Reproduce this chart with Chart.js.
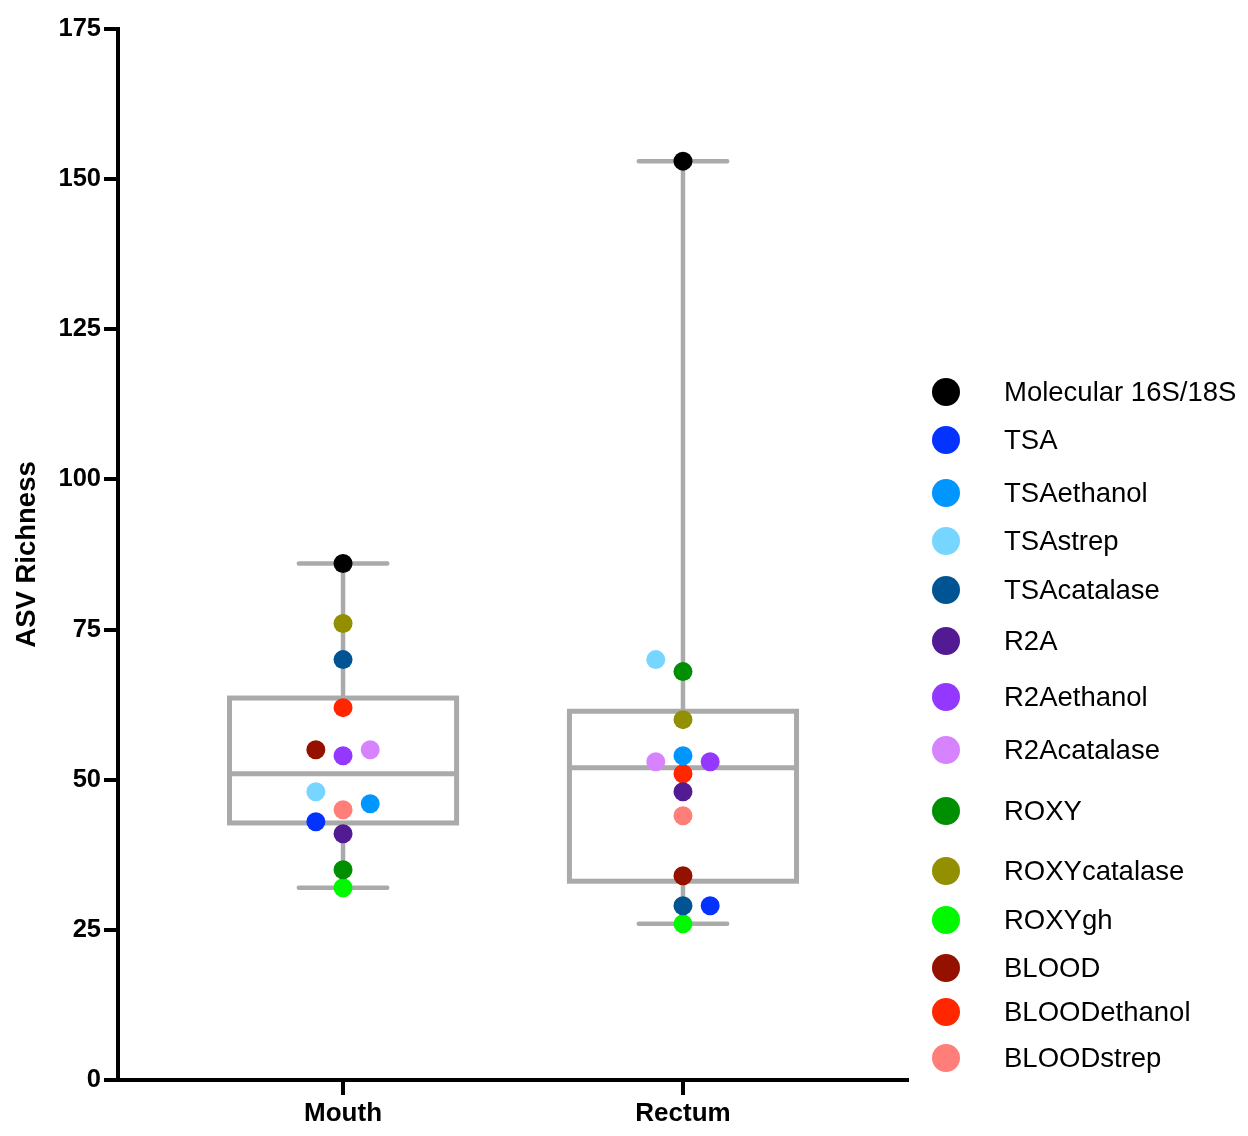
<!DOCTYPE html>
<html>
<head>
<meta charset="utf-8">
<script src="https://cdn.jsdelivr.net/npm/chart.js@4.4.1/dist/chart.umd.min.js"></script>
<style>
  html, body { margin: 0; padding: 0; background: #fff; }
  #wrap { position: relative; width: 1248px; height: 1136px; }
  #legend { position: absolute; left: 0; top: 0; width: 1248px; height: 1136px; pointer-events: none; }
  .item { position: absolute; left: 932px; height: 28px; display: flex; align-items: center;
          font-family: "Liberation Sans", Arial, sans-serif; font-size: 27.5px; color: #000; white-space: nowrap; }
  .dot { width: 28px; height: 28px; border-radius: 50%; margin-right: 44px; flex: none; }
</style>
</head>
<body>
<div id="wrap">
  <canvas id="chart"></canvas>
  <div id="legend"></div>
</div>
<script>
// ===== Data =====
const groups = ['Mouth', 'Rectum'];
const seriesNames = ['Molecular 16S/18S', 'TSA', 'TSAethanol', 'TSAstrep', 'TSAcatalase', 'R2A', 'R2Aethanol',
  'R2Acatalase', 'ROXY', 'ROXYcatalase', 'ROXYgh', 'BLOOD', 'BLOODethanol', 'BLOODstrep'];
const seriesColors = ['#000000', '#0433FF', '#0096FF', '#76D6FF', '#005493', '#531B93', '#9437FF',
  '#D783FF', '#008F00', '#929000', '#00F900', '#941100', '#FF2600', '#FF7E79'];
const mouthValues  = [86, 43, 46, 48, 70, 41, 54, 55, 35, 76, 32, 55, 62, 45];
const rectumValues = [153, 29, 54, 70, 29, 48, 53, 53, 68, 60, 26, 34, 51, 44];
// which side of the centre line a point is nudged to (-1 left, 0 centre, 1 right)
const mouthSide  = [0, -1, 1, -1, 0, 0, 0, 1, 0, 0, 0, -1, 0, 0];
const rectumSide = [0, 1, 0, -1, 0, 0, 1, -1, 0, 0, 0, 0, 0, 0];

const boxMin    = [32, 26];
const boxQ1     = [42.8, 33.1];
const boxMedian = [51, 52];
const boxQ3     = [63.6, 61.4];
const boxMax    = [86, 153];

const yTicks = [0, 25, 50, 75, 100, 125, 150, 175];

// ===== Style =====
const GREY = '#aaaaaa';
const JITTER = 0.08;
const BOX_HALF = 0.334;
const CAP_HALF = 0.13;
const legendTops = [392, 440, 493, 541, 590, 641, 697, 750, 811, 871, 920, 968, 1012, 1058];

const datasets = seriesNames.map((name, i) => ({
  label: name,
  data: [
    { x: 0 + mouthSide[i] * JITTER, y: mouthValues[i] },
    { x: 1 + rectumSide[i] * JITTER, y: rectumValues[i] }
  ],
  backgroundColor: seriesColors[i],
  borderWidth: 0,
  pointRadius: 9.5,
  pointHoverRadius: 9.5
}));

// box, median and whiskers drawn behind the points
const boxPlugin = {
  id: 'boxes',
  beforeDatasetsDraw(chart) {
    const { ctx, scales: { x, y } } = chart;
    ctx.save();
    ctx.strokeStyle = GREY;
    ctx.lineCap = 'butt';
    groups.forEach((g, i) => {
      const cx = x.getPixelForValue(i);
      const bl = x.getPixelForValue(i - BOX_HALF), br = x.getPixelForValue(i + BOX_HALF);
      const cl = x.getPixelForValue(i - CAP_HALF), cr = x.getPixelForValue(i + CAP_HALF);
      const yMin = y.getPixelForValue(boxMin[i]), yMax = y.getPixelForValue(boxMax[i]);
      const yQ1 = y.getPixelForValue(boxQ1[i]), yQ3 = y.getPixelForValue(boxQ3[i]);
      const yMed = y.getPixelForValue(boxMedian[i]);

      ctx.lineWidth = 4.5;
      ctx.beginPath();
      ctx.moveTo(cx, yMax); ctx.lineTo(cx, yQ3);
      ctx.moveTo(cx, yQ1); ctx.lineTo(cx, yMin);
      ctx.stroke();

      ctx.lineCap = 'round';
      ctx.beginPath();
      ctx.moveTo(cl, yMax); ctx.lineTo(cr, yMax);
      ctx.moveTo(cl, yMin); ctx.lineTo(cr, yMin);
      ctx.stroke();
      ctx.lineCap = 'butt';

      ctx.lineWidth = 5;
      ctx.strokeRect(bl, yQ3, br - bl, yQ1 - yQ3);
      ctx.beginPath();
      ctx.moveTo(bl, yMed); ctx.lineTo(br, yMed);
      ctx.stroke();
    });
    ctx.restore();
  }
};

const FONT = '"Liberation Sans", Arial, sans-serif';

new Chart(document.getElementById('chart'), {
  type: 'scatter',
  data: { datasets },
  options: {
    responsive: true,
    maintainAspectRatio: false,
    animation: false,
    events: [],
    layout: { padding: { top: 29, right: 341, left: 0, bottom: 0 } },
    plugins: { legend: { display: false }, tooltip: { enabled: false } },
    scales: {
      x: {
        type: 'linear',
        min: -0.662,
        max: 1.659,
        afterBuildTicks: s => { s.ticks = groups.map((g, i) => ({ value: i })); },
        afterFit: s => { s.height = 56; },
        ticks: {
          callback: v => groups[v],
          color: '#000',
          font: { family: FONT, size: 26, weight: 'bold' },
          padding: 3,
          maxRotation: 0
        },
        grid: { drawOnChartArea: false, drawTicks: true, tickLength: 15, color: '#000', lineWidth: 4 },
        border: { color: '#000', width: 4 }
      },
      y: {
        min: 0,
        max: 175,
        afterBuildTicks: s => { s.ticks = yTicks.map(v => ({ value: v })); },
        afterFit: s => { s.width = 118; },
        ticks: {
          color: '#000',
          font: { family: FONT, size: 25.5, weight: 'bold' },
          padding: 3
        },
        grid: { drawOnChartArea: false, drawTicks: true, tickLength: 14, color: '#000', lineWidth: 4 },
        border: { color: '#000', width: 4 },
        title: {
          display: true,
          text: 'ASV Richness',
          color: '#000',
          font: { family: FONT, size: 27.5, weight: 'bold' },
          padding: { top: 11, bottom: 0 }
        }
      }
    }
  },
  plugins: [boxPlugin]
});

// ===== Legend =====
const legend = document.getElementById('legend');
seriesNames.forEach((name, i) => {
  const item = document.createElement('div');
  item.className = 'item';
  item.style.top = (legendTops[i] - 14) + 'px';
  item.innerHTML = `<span class="dot" style="background:${seriesColors[i]}"></span><span>${name}</span>`;
  legend.appendChild(item);
});
</script>
</body>
</html>
